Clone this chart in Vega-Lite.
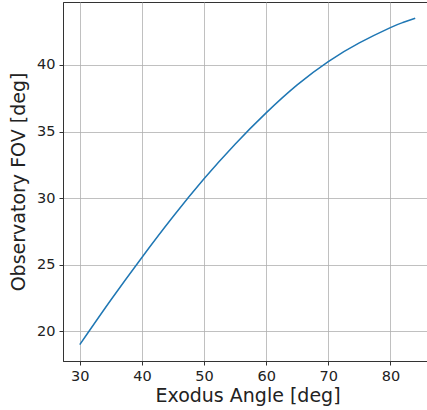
{
  "$schema": "https://vega.github.io/schema/vega-lite/v6.json",
  "width": 369,
  "height": 359,
  "autosize": "none",
  "padding": {"left": 63, "top": 2, "right": 0, "bottom": 49},
  "background": "white",
  "config": {
    "view": {"stroke": "#333333", "strokeWidth": 1},
    "axis": {
      "labelFont": "DejaVu Sans",
      "titleFont": "DejaVu Sans",
      "labelFontSize": 14.5,
      "titleFontSize": 19,
      "titleFontWeight": "normal",
      "labelColor": "#222222",
      "titleColor": "#222222",
      "domainColor": "#333333",
      "tickColor": "#333333",
      "tickSize": 4,
      "labelPadding": 4,
      "gridColor": "#b0b0b0",
      "gridWidth": 0.8
    }
  },
  "data": {
    "values": [
      {"angle": 30, "fov": 19.0},
      {"angle": 35, "fov": 22.35},
      {"angle": 40, "fov": 25.55},
      {"angle": 45, "fov": 28.6},
      {"angle": 50, "fov": 31.45},
      {"angle": 55, "fov": 34.05},
      {"angle": 60, "fov": 36.4},
      {"angle": 65, "fov": 38.5},
      {"angle": 70, "fov": 40.25},
      {"angle": 75, "fov": 41.65},
      {"angle": 80, "fov": 42.8},
      {"angle": 82, "fov": 43.18},
      {"angle": 84, "fov": 43.5}
    ]
  },
  "mark": {"type": "line", "color": "#1f77b4", "strokeWidth": 1.5, "interpolate": "natural"},
  "encoding": {
    "x": {
      "field": "angle",
      "type": "quantitative",
      "scale": {"domain": [27.3, 86.7], "nice": false, "zero": false},
      "axis": {"values": [30, 40, 50, 60, 70, 80], "title": "Exodus Angle [deg]", "titlePadding": 4}
    },
    "y": {
      "field": "fov",
      "type": "quantitative",
      "scale": {"domain": [17.775, 44.725], "nice": false, "zero": false},
      "axis": {"values": [20, 25, 30, 35, 40], "title": "Observatory FOV [deg]", "titlePadding": 8}
    }
  }
}
